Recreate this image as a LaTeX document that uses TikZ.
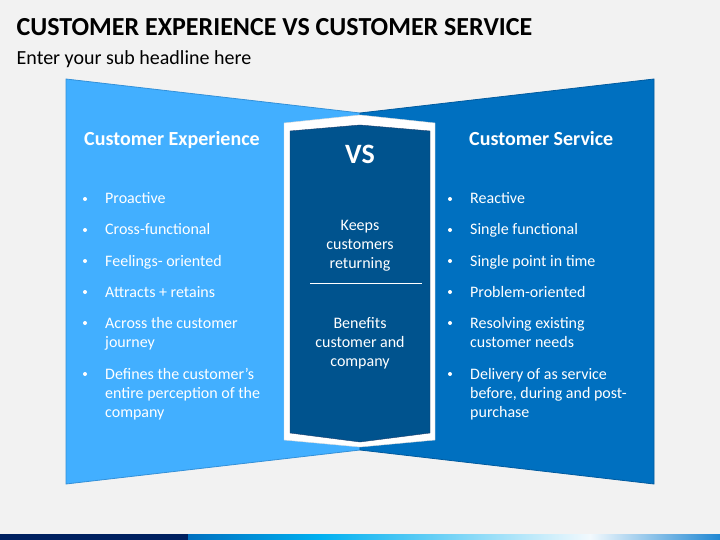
\documentclass[tikz,border=0pt]{standalone}
\usepackage{fontspec}
\setmainfont{Carlito}
\definecolor{bgray}{HTML}{F2F2F2}
\definecolor{cxblue}{HTML}{42AFFF}
\definecolor{cxedge}{HTML}{3390D8}
\definecolor{csblue}{HTML}{0070C0}
\definecolor{csedge}{HTML}{005A9E}
\definecolor{vsnavy}{HTML}{00538E}
\definecolor{vsedge}{HTML}{1C3F6E}
\definecolor{barnavy}{HTML}{002060}
\definecolor{barcyan}{HTML}{00B0F0}
\definecolor{barpale}{HTML}{F2F9FD}
\definecolor{barend}{HTML}{1F87D3}

\tikzstyle{heading}=[anchor=base west,inner sep=0,text=white,font=\fontsize{20}{24}\selectfont\bfseries]
\tikzstyle{item}=[anchor=base west,inner sep=0,text=white,align=left]
\tikzstyle{dot}=[circle,fill=white,inner sep=0,minimum size=4pt]
\tikzstyle{mid}=[anchor=base,inner sep=0,text=white,align=center]

\begin{document}
\begin{tikzpicture}[x=1pt,y=-1pt,font=\fontsize{16}{19}\selectfont]
\fill[bgray] (0,0) rectangle (720,540);
\useasboundingbox (0,0) rectangle (720,540);

\node[anchor=base west,inner sep=0,font=\fontsize{26}{31}\selectfont\bfseries] (title) at (16.5,36) {CUSTOMER EXPERIENCE VS CUSTOMER SERVICE};
\node[anchor=base west,inner sep=0,font=\fontsize{20}{24}\selectfont] (sub) at (16.5,65) {Enter your sub headline here};

% the two panels
\filldraw[fill=cxblue,draw=cxedge,thick] (66,79) -- (360,113) -- (360,450) -- (66,484) -- cycle;
\filldraw[fill=csblue,draw=csedge,thick] (654,79) -- (360,113) -- (360,450) -- (654,484) -- cycle;

% vs badge
\filldraw[fill=white,draw=black!15] (284,123) -- (360,115) -- (435,123) -- (435,440) -- (360,447) -- (284,440) -- cycle;
\filldraw[fill=vsnavy,draw=vsedge] (290,131) -- (360,125) -- (430,131) -- (430,433) -- (360,442) -- (290,433) -- cycle;
\node[mid,font=\fontsize{28}{32}\selectfont\bfseries] (vs) at (360,164) {VS};
\node[mid] (keep) at (360,268) {Keeps\\customers\\returning};
\draw[white] (310,283) -- (422,283);
\node[mid] (ben) at (360,366) {Benefits\\customer and\\company};

% customer experience
\node[heading] (cx) at (84,146) {Customer Experience};
\node[dot] (lb1) at (85,199) {};
\node[item] (l1) at (105,204) {Proactive};
\node[dot] (lb2) at (85,230) {};
\node[item] (l2) at (105,235) {Cross-functional};
\node[dot] (lb3) at (85,261) {};
\node[item] (l3) at (105,266) {Feelings- oriented};
\node[dot] (lb4) at (85,292) {};
\node[item] (l4) at (105,297) {Attracts + retains};
\node[dot] (lb5) at (85,323) {};
\node[item] (l5) at (105,347) {Across the customer\\journey};
\node[dot] (lb6) at (85,374) {};
\node[item] (l6) at (105,417) {Defines the customer’s\\entire perception of the\\company};

% customer service
\node[heading] (cs) at (469,146) {Customer Service};
\node[dot] (rb1) at (450,199) {};
\node[item] (r1) at (470,204) {Reactive};
\node[dot] (rb2) at (450,230) {};
\node[item] (r2) at (470,235) {Single functional};
\node[dot] (rb3) at (450,261) {};
\node[item] (r3) at (470,266) {Single point in time};
\node[dot] (rb4) at (450,292) {};
\node[item] (r4) at (470,297) {Problem-oriented};
\node[dot] (rb5) at (450,323) {};
\node[item] (r5) at (470,347) {Resolving existing\\customer needs};
\node[dot] (rb6) at (450,374) {};
\node[item] (r6) at (470,417) {Delivery of as service\\before, during and post-\\purchase};

% bottom bar
\fill[barnavy] (0,534) rectangle (188,540);
\shade[left color=csblue,right color=barcyan] (188,534) rectangle (320,540);
\shade[left color=barcyan,right color=barpale] (320,534) rectangle (590,540);
\shade[left color=barpale,right color=barend] (590,534) rectangle (720,540);
\end{tikzpicture}
\end{document}
